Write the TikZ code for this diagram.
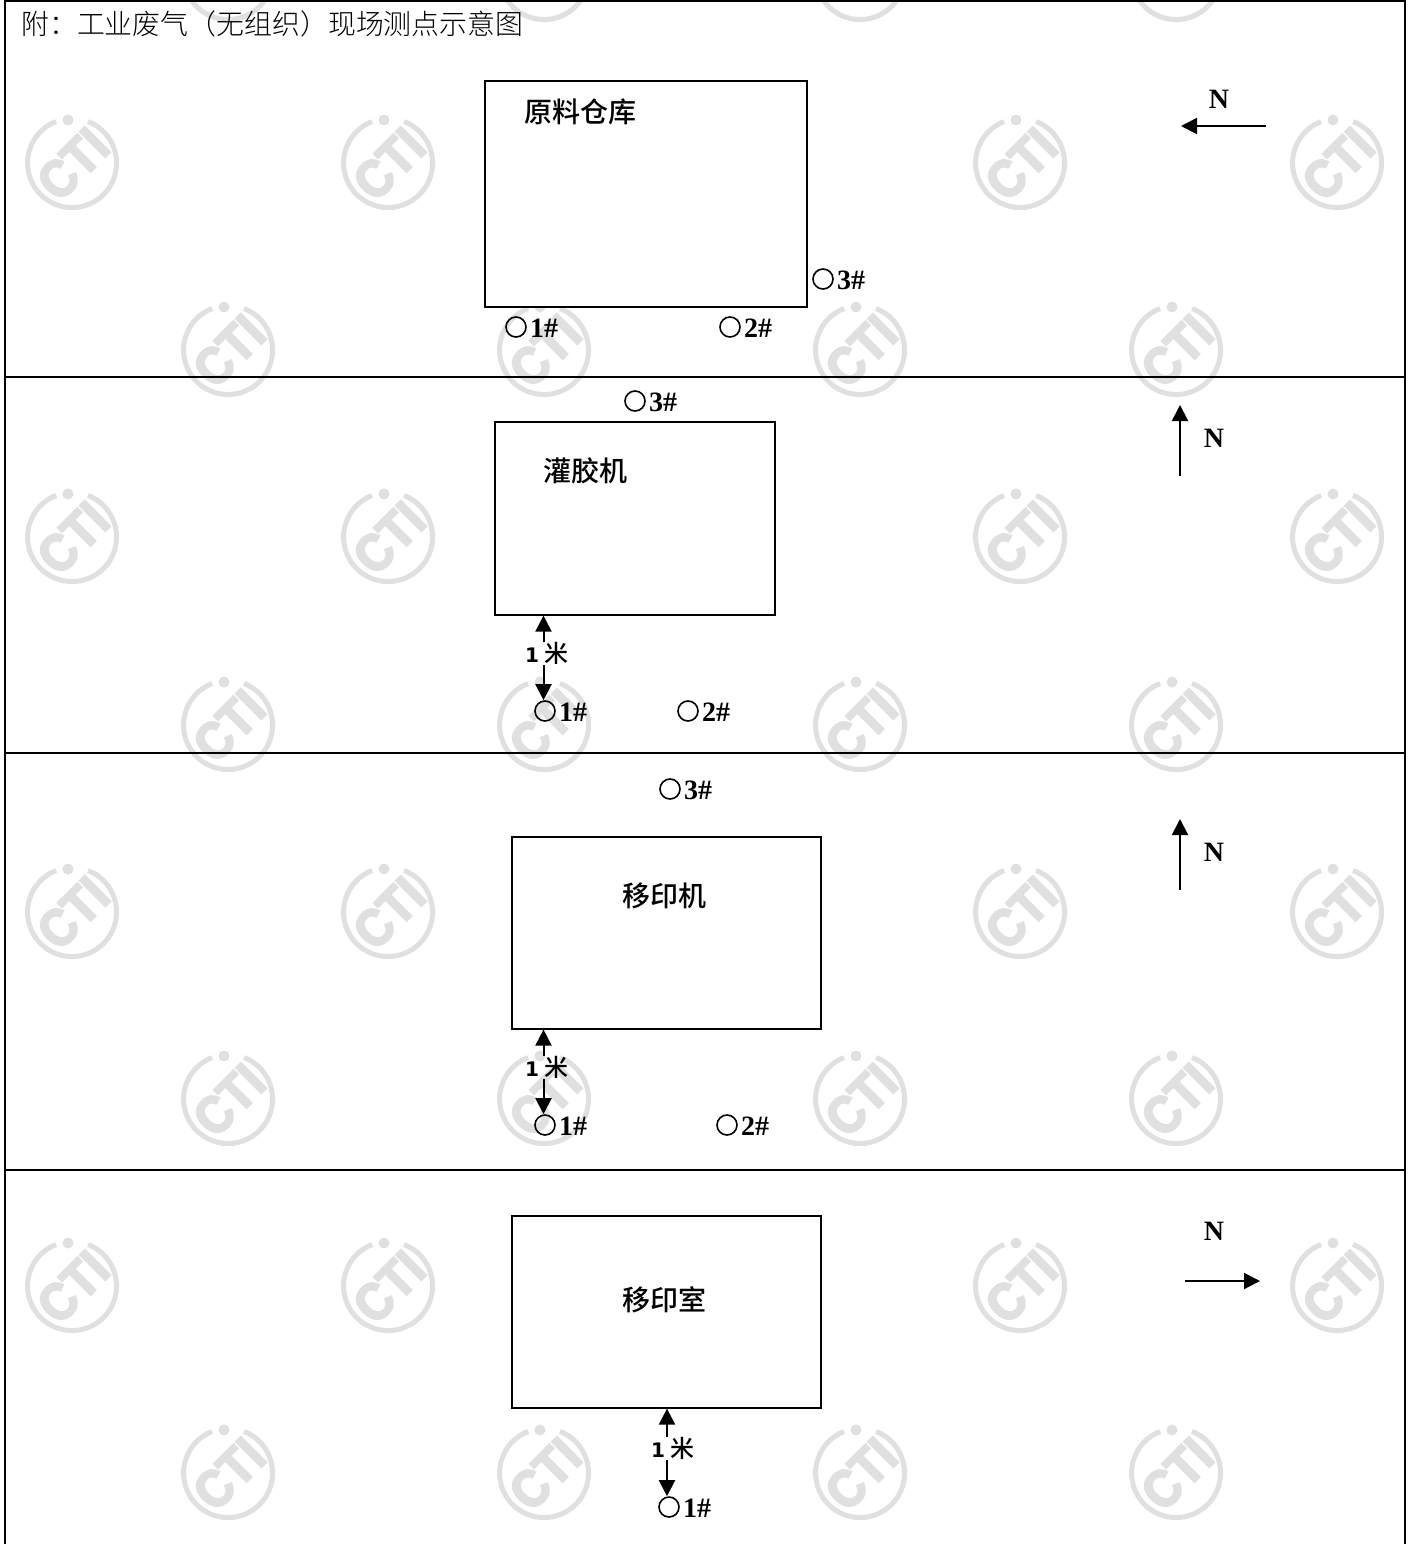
\documentclass[tikz,border=0pt]{standalone}
\usepackage{fontspec}
\setmainfont{Liberation Serif}
\newfontfamily\cjk{Noto Sans CJK SC}[UprightFont={* Medium}]
\newfontfamily\cjklight{Noto Sans CJK SC}[UprightFont={* Light}]
\newfontfamily\onefont{DejaVu Sans Bold}
\newfontfamily\stampfont{Liberation Sans Bold}[FakeBold=4,FakeStretch=0.9]
\usetikzlibrary{arrows.meta}
\definecolor{wm}{gray}{0.88}
\tikzset{
  x=1pt,y=-1pt,
  frameline/.style={line width=2pt,black},
  roombox/.style={draw=black,fill=white,line width=1.6pt,inner sep=0pt,anchor=north west},
  roomlabel/.style={font=\cjk\fontsize{28}{28}\selectfont,inner sep=0pt},
  titlelabel/.style={font=\cjklight\fontsize{27.9}{28}\selectfont,inner sep=0pt,anchor=west,text=black},
  pointmark/.style={circle,draw=black,line width=1.6pt,minimum size=20pt,inner sep=0pt},
  pointlabel/.style={font=\bfseries\fontsize{28}{28}\selectfont,inner sep=0pt,anchor=west},
  northlabel/.style={font=\bfseries\fontsize{28}{28}\selectfont,inner sep=0pt},
  dist/.style={inner sep=0pt,font=\fontsize{27}{27}\selectfont},
  arrowline/.style={line width=2pt,-{Triangle[length=16pt,width=16pt]}},
  stamptext/.style={wm,font=\stampfont\fontsize{52}{52}\selectfont,inner sep=0pt,rotate=45},
}
\newcommand{\stampring}[2]{%
  \draw[wm,line width=5pt] (#1+16,#2-41.5) arc[start angle=-69,end angle=249,radius=44.5];
  \fill[wm] (#1-4,#2-43) circle[radius=5.5];
}
\newcommand{\stampat}[3]{%
  \stampring{#2}{#3}
  \node[stamptext] (#1) at (#2+1,#3+1) {CTI};
}
\newcommand{\onemi}[3]{%
  \node[dist] (#1) at (#2,#3) {{\onefont\fontsize{20}{20}\selectfont 1}\hspace{6pt}{\cjk\fontsize{24}{24}\selectfont 米}};
}
\begin{document}
\begin{tikzpicture}
\useasboundingbox (0,0) rectangle (1412,1544);
\fill[white] (0,0) rectangle (1412,1544);
\begin{scope}
\clip (0,0) rectangle (1412,1544);
\foreach \xx in {228,544,860,1176}
  \stampring{\xx}{-25};
\foreach \yy [count=\r] in {163,537,912,1286}
  \foreach \xx [count=\c] in {72,388,1020,1337}
    \stampat{sa\r\c}{\xx}{\yy};
\foreach \yy [count=\r] in {350,725,1099,1473}
  \foreach \xx [count=\c] in {228,544,860,1176}
    \stampat{sb\r\c}{\xx}{\yy};
\end{scope}
% frame
\draw[frameline] (5,1544) -- (5,1) -- (1405,1) -- (1405,1544);
\draw[frameline] (5,377) -- (1405,377);
\draw[frameline] (5,753) -- (1405,753);
\draw[frameline] (5,1170) -- (1405,1170);
\node[titlelabel] (title) at (21,24) {附：工业废气（无组织）现场测点示意图};
% rooms
\node[roombox,minimum width=322pt,minimum height=226pt] (r1) at (484,80) {};
\node[roombox,minimum width=280pt,minimum height=193pt] (r2) at (494,421) {};
\node[roombox,minimum width=309pt,minimum height=192pt] (r3) at (511,836) {};
\node[roombox,minimum width=309pt,minimum height=192pt] (r4) at (511,1215) {};
\node[roomlabel] (r1t) at (580,112) {原料仓库};
\node[roomlabel] (r2t) at (585,471) {灌胶机};
\node[roomlabel] (r3t) at (664,896) {移印机};
\node[roomlabel] (r4t) at (664,1300) {移印室};
% points
\foreach \n/\xx/\yy/\tt in {
  a1/516/327/1\#, a2/730/327/2\#, a3/823/279/3\#,
  b1/545/711/1\#, b2/688/711/2\#, b3/635/401/3\#,
  c1/545/1125/1\#, c2/727/1125/2\#, c3/670/789/3\#,
  d1/669/1507/1\#}{
  \node[pointmark] (\n) at (\xx,\yy) {};
  \node[pointlabel] (\n t) at ([xshift=3pt,yshift=-1pt]\n.east) {\tt};
}
% distance marks
\onemi{m2}{547}{653}
\onemi{m3}{547}{1067}
\onemi{m4}{673}{1448}
\coordinate (m2up) at (543.5,642);   \coordinate (m2dn) at (543.5,665);
\coordinate (m3up) at (543.5,1056);  \coordinate (m3dn) at (543.5,1079);
\coordinate (m4up) at (667,1437);    \coordinate (m4dn) at (667,1460);
\draw[arrowline] (m2up) -- (r2.south -| m2up);
\draw[arrowline] (m2dn) -- (m2dn |- b1.north);
\draw[arrowline] (m3up) -- (r3.south -| m3up);
\draw[arrowline] (m3dn) -- (m3dn |- c1.north);
\draw[arrowline] (m4up) -- (r4.south -| m4up);
\draw[arrowline] (m4dn) -- (m4dn |- d1.north);
% north arrows
\node[northlabel] (n1) at (1219,99) {N};
\node[northlabel] (n2) at (1214,438) {N};
\node[northlabel] (n3) at (1214,852) {N};
\node[northlabel] (n4) at (1214,1231) {N};
\coordinate (n1a) at (1266,126); \coordinate (n1b) at (1181,126);
\coordinate (n2a) at (1180,476); \coordinate (n2b) at (1180,405);
\coordinate (n3a) at (1180,890); \coordinate (n3b) at (1180,819);
\coordinate (n4a) at (1185,1281); \coordinate (n4b) at (1260,1281);
\draw[arrowline] (n1a) -- (n1b);
\draw[arrowline] (n2a) -- (n2b);
\draw[arrowline] (n3a) -- (n3b);
\draw[arrowline] (n4a) -- (n4b);
\end{tikzpicture}
\end{document}
